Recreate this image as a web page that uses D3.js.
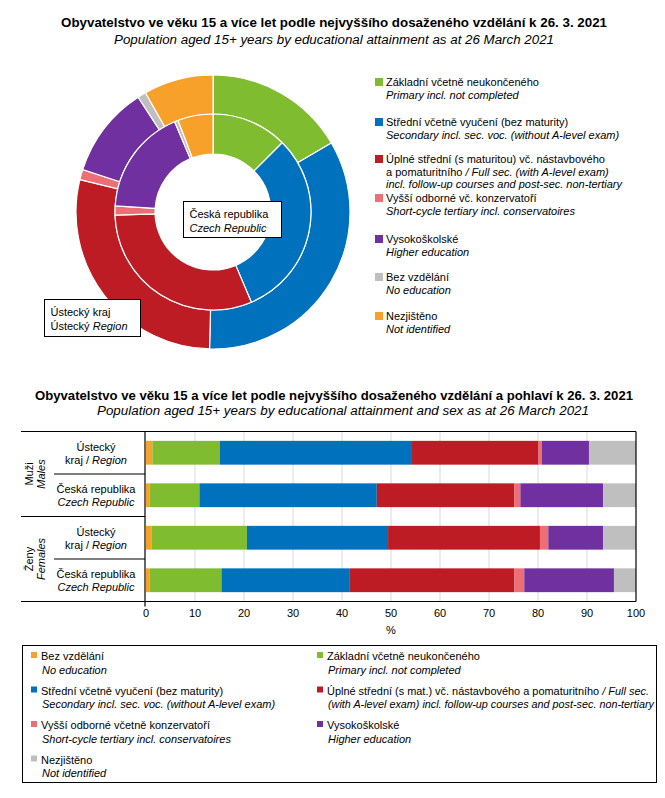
<!DOCTYPE html>
<head>
<meta charset="utf-8">
<script src="https://d3js.org/d3.v7.min.js"></script>
<style>
body{ margin:0; background:#fff; }
text{ font-family: "Liberation Sans", Arial, sans-serif; font-size: 11px; fill:#000; }
text.title{ font-size: 13.5px; font-weight: 700; }
text.subTitle{ font-size: 12.5px; font-style: italic; }
.it{ font-style: italic; }
.grid line{ stroke:#d9d9d9; }
</style>
</head>
<body>
<script>
const width = 665, height = 798;

// category colours
const colorByKey = {
  zakl: "#80bc2f", stred: "#0071bc", uplne: "#be1c24", vyssi: "#ee6e75",
  vs: "#7030a0", bez: "#bfbfbf", nezj: "#f7a12b"
};

// donut: outer = Ústecký kraj, inner = Česká republika
const donutKeys   = ["zakl","stred","uplne","vyssi","vs","bez","nezj"];
const donutRegion = [16.6, 33.8, 28.4, 1.2, 10.8, 1.0, 8.2];
const donutCR     = [12.5, 31.1, 30.9, 1.5, 17.6, 0.6, 5.8];

// bars: order as stacked from 0 (bar chart swaps grey/orange)
const barKeys   = ["bez","zakl","stred","uplne","vyssi","vs","nezj"];
const barColors = ["#f7a12b","#80bc2f","#0071bc","#be1c24","#ee6e75","#7030a0","#bfbfbf"];
const barRows   = ["muzi_kraj","muzi_cr","zeny_kraj","zeny_cr"];
const barMaleRegion   = [1.3, 13.8, 39.0, 26.0, 0.7, 9.6, 9.6];
const barMaleCR       = [0.7, 10.2, 36.2, 28.1, 1.2, 16.9, 6.7];
const barFemaleRegion = [1.1, 19.5, 28.8, 31.0, 1.7, 11.2, 6.7];
const barFemaleCR     = [0.7, 14.7, 26.2, 33.6, 2.0, 18.3, 4.5];
const xTicks = [0,10,20,30,40,50,60,70,80,90,100];

const svg = d3.select("body").append("svg")
  .attr("width", width).attr("height", height);

function title(y1, y2, t1, t2, w1, w2){
  svg.append("text").attr("class","title").attr("x", w1[0]).attr("y", y1)
    .attr("textLength", w1[1]).attr("lengthAdjust","spacingAndGlyphs").text(t1);
  svg.append("text").attr("class","subTitle").attr("x", w2[0]).attr("y", y2)
    .attr("textLength", w2[1]).attr("lengthAdjust","spacingAndGlyphs").text(t2);
}

title(27, 44,
  "Obyvatelstvo  ve věku 15 a více let podle nejvyššího  dosaženého vzdělání k 26. 3. 2021",
  "Population  aged 15+ years  by educational  attainment  as at 26 March  2021",
  [61, 546], [114, 440]);

// ---------- donut ----------
const cx = 213, cy = 212;
const pie = d3.pie().sort(null).value(d => d);
const arcOuter = d3.arc().innerRadius(98).outerRadius(137);
const arcInner = d3.arc().innerRadius(58).outerRadius(98);

const donut = svg.append("g").attr("transform", `translate(${cx},${cy})`);
donut.selectAll("path.outer").data(pie(donutRegion)).join("path")
  .attr("class","outer").attr("d", arcOuter)
  .attr("fill", (d,i) => colorByKey[donutKeys[i]])
  .attr("stroke","#fff").attr("stroke-width",1.2);
donut.selectAll("path.inner").data(pie(donutCR)).join("path")
  .attr("class","inner").attr("d", arcInner)
  .attr("fill", (d,i) => colorByKey[donutKeys[i]])
  .attr("stroke","#fff").attr("stroke-width",1.2);

function labelBox(x, y, w, h, lines){
  svg.append("rect").attr("x",x).attr("y",y).attr("width",w).attr("height",h)
    .attr("fill","#fff").attr("stroke","#000").attr("stroke-width",1);
  lines.forEach((ln,i) => {
    const t = svg.append("text").attr("x", x+6).attr("y", y+16+i*14);
    ln.forEach(p => t.append("tspan").attr("class", p[1] ? "it" : null).text(p[0]));
  });
}
labelBox(183.5, 201.5, 98, 36, [[["Česká republika",0]],[["Czech Republic",1]]]);
labelBox(44.5, 299.5, 96, 37, [[["Ústecký kraj",0]],[["Ústecký ",0],["Region",1]]]);

// top legend
const topLegend = [
  {k:"zakl", y:82, lines:[[["Základní včetně neukončeného",0]],[["Primary incl. not completed",1]]]},
  {k:"stred", y:122, lines:[[["Střední včetně vyučení (bez maturity)",0]],[["Secondary incl. sec. voc. (without A-level exam)",1]]]},
  {k:"uplne", y:159, lines:[[["Úplné střední (s maturitou) vč. nástavbového",0]],
     [["a pomaturitního ",0],["/ Full sec. (with A-level exam)",1]],
     [["incl. follow-up courses and post-sec. non-tertiary",1]]]},
  {k:"vyssi", y:198, lines:[[["Vyšší odborné vč. konzervatoří",0]],[["Short-cycle tertiary incl. conservatoires",1]]]},
  {k:"vs", y:239, lines:[[["Vysokoškolské",0]],[["Higher education",1]]]},
  {k:"bez", y:277, lines:[[["Bez vzdělání",0]],[["No education",1]]]},
  {k:"nezj", y:316, lines:[[["Nezjištěno",0]],[["Not identified",1]]]}
];
topLegend.forEach(it => {
  svg.append("rect").attr("x",375).attr("y",it.y-4).attr("width",8).attr("height",8)
    .attr("fill", colorByKey[it.k]);
  it.lines.forEach((ln,i) => {
    const t = svg.append("text").attr("x",386).attr("y", it.y+4+i*12.5);
    ln.forEach(p => t.append("tspan").attr("class", p[1] ? "it" : null).text(p[0]));
  });
});

// ---------- bar chart ----------
title(400, 415,
  "Obyvatelstvo  ve věku 15 a více let podle nejvyššího  dosaženého vzdělání a pohlaví k 26. 3. 2021",
  "Population  aged 15+ years  by educational  attainment  and sex as at 26 March  2021",
  [35, 598], [97, 492]);

const bTop = 431.5, bBottom = 601.5, bLeft = 21, x0 = 146, x100 = 636;
const x = d3.scaleLinear().domain([0,100]).range([x0, x100]);
const y = d3.scaleBand().domain(barRows).range([bTop, bBottom]).paddingInner(0.44).paddingOuter(0.22);

const rowValues = [barMaleRegion, barMaleCR, barFemaleRegion, barFemaleCR];

const g = svg.append("g");
g.append("g").attr("class","grid")
  .selectAll("line").data(xTicks.slice(1,-1)).join("line")
  .attr("x1", d => x(d)).attr("x2", d => x(d)).attr("y1", bTop).attr("y2", bBottom);

rowValues.forEach((vals, r) => {
  let acc = 0;
  const segs = vals.map((v,i) => { const s = {x0:acc, x1:acc+v, c:barColors[i]}; acc += v; return s; });
  g.selectAll(`rect.r${r}`).data(segs).join("rect")
    .attr("class", `r${r}`)
    .attr("x", d => x(d.x0)).attr("width", d => x(d.x1)-x(d.x0))
    .attr("y", y(barRows[r])).attr("height", y.bandwidth())
    .attr("fill", d => d.c);
});

// frame lines
const line = (x1,y1,x2,y2) => g.append("line").attr("x1",x1).attr("y1",y1).attr("x2",x2).attr("y2",y2)
  .attr("stroke","#000").attr("stroke-width",1.2);
line(bLeft, bTop, x100, bTop);
line(bLeft, bBottom, x100, bBottom);
line(x0-1, bTop, x0-1, bBottom+5);
line(x100, bTop, x100, bBottom);
const band = (bBottom-bTop)/4;
line(bLeft, bTop+2*band, x0-1, bTop+2*band);
line(54, bTop+band, x0-1, bTop+band);
line(54, bTop+3*band, x0-1, bTop+3*band);

// x axis labels
g.selectAll("text.tk").data(xTicks).join("text").attr("class","tk")
  .attr("x", d => x(d)).attr("y", 617).attr("text-anchor","middle").text(d => d);
g.append("text").attr("x", x(50)).attr("y", 634).attr("text-anchor","middle").text("%");

// row labels
const rowLab = [
  [[["Ústecký",0]],[["kraj / ",0],["Region",1]]],
  [[["Česká republika",0]],[["Czech Republic",1]]]
];
for (let r=0; r<4; r++){
  const cyr = bTop + band*r + band/2;
  rowLab[r%2].forEach((ln,i) => {
    const t = g.append("text").attr("x", 96).attr("y", cyr - 2 + i*13).attr("text-anchor","middle");
    ln.forEach(p => t.append("tspan").attr("class", p[1] ? "it" : null).text(p[0]));
  });
}
[["Muži","Males"],["Ženy","Females"]].forEach((p, k) => {
  const cyg = bTop + band*(2*k+1);
  g.append("text").attr("transform", `translate(33,${cyg}) rotate(-90)`).attr("text-anchor","middle").text(p[0]);
  g.append("text").attr("class","it").attr("transform", `translate(45,${cyg}) rotate(-90)`).attr("text-anchor","middle").text(p[1]);
});

// bottom legend
svg.append("rect").attr("x",22.5).attr("y",645.5).attr("width",634).attr("height",137)
  .attr("fill","none").attr("stroke","#000");
const botLegend = [
  {c:"#f7a12b", col:0, row:0, lines:[[["Bez vzdělání",0]],[["No education",1]]]},
  {c:"#80bc2f", col:1, row:0, lines:[[["Základní včetně neukončeného",0]],[["Primary incl. not completed",1]]]},
  {c:"#0071bc", col:0, row:1, lines:[[["Střední včetně vyučení (bez maturity)",0]],[["Secondary incl. sec. voc. (without A-level exam)",1]]]},
  {c:"#be1c24", col:1, row:1, fit:[322, 326], lines:[[["Úplné střední (s mat.) vč. nástavbového a pomaturitního ",0],["/ Full sec.",1]],
     [["(with A-level exam) incl. follow-up courses and post-sec. non-tertiary",1]]]},
  {c:"#ee6e75", col:0, row:2, lines:[[["Vyšší odborné včetně konzervatoří",0]],[["Short-cycle tertiary incl. conservatoires",1]]]},
  {c:"#7030a0", col:1, row:2, lines:[[["Vysokoškolské",0]],[["Higher education",1]]]},
  {c:"#bfbfbf", col:0, row:3, lines:[[["Nezjištěno",0]],[["Not identified",1]]]}
];
botLegend.forEach(it => {
  const lx = it.col ? 317 : 31, ly = 656 + it.row*34.5;
  svg.append("rect").attr("x",lx).attr("y",ly-4).attr("width",6).attr("height",6).attr("fill",it.c);
  it.lines.forEach((ln,i) => {
    const t = svg.append("text").attr("x", lx+10+(i?1:0)).attr("y", ly+4+i*13.5);
    if (it.fit) t.attr("textLength", it.fit[i]).attr("lengthAdjust","spacingAndGlyphs");
    ln.forEach(p => t.append("tspan").attr("class", p[1] ? "it" : null).text(p[0]));
  });
});
</script>
</body>
